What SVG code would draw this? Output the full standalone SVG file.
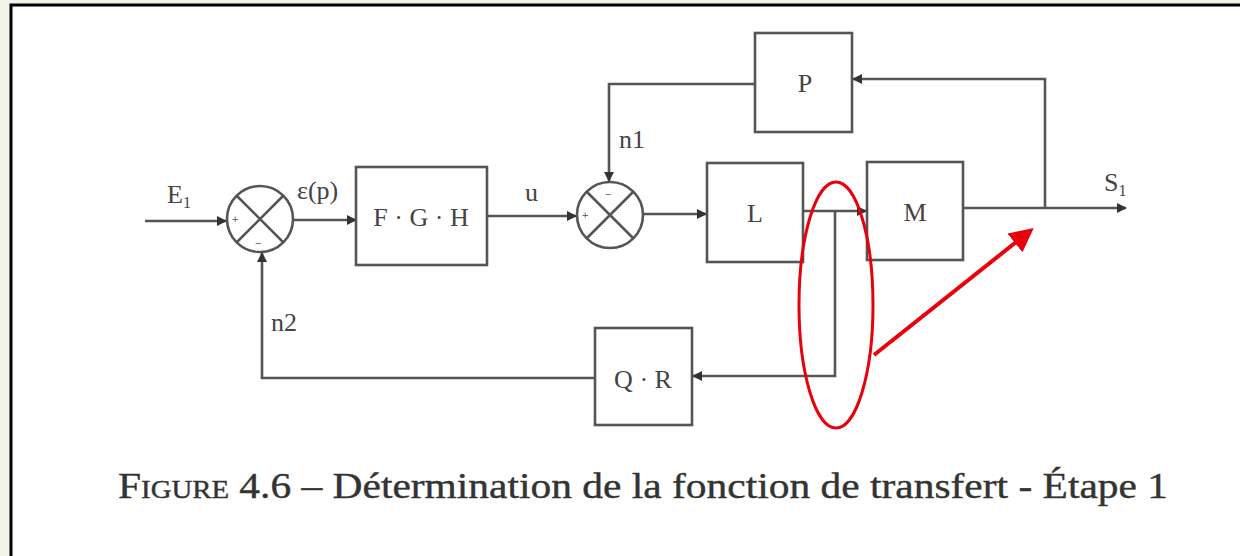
<svg xmlns="http://www.w3.org/2000/svg" width="1240" height="556" viewBox="0 0 1240 556">
<style>
.blk{fill:#fff;stroke:#555;stroke-width:2.6}
.ln{fill:none;stroke:#555;stroke-width:2.6}
.lbl{font-family:"Liberation Serif",serif;font-size:26px;fill:#444}
.sgn{font-family:"Liberation Sans",sans-serif;font-size:11px;fill:#666}
.cap{font-family:"Liberation Serif",serif;font-size:36px;fill:#333;stroke:#333;stroke-width:0.4}
.red{fill:none;stroke:#e8000b;stroke-width:3}
</style>
<defs>
<marker id="ah2" viewBox="0 0 10 10" refX="9" refY="5" markerWidth="10" markerHeight="10" orient="auto" markerUnits="userSpaceOnUse">
<path d="M0,0 L10,5 L0,10 z" fill="#333"/>
</marker>
<marker id="rah" viewBox="0 0 10 10" refX="8" refY="5" markerWidth="6" markerHeight="6" orient="auto">
<path d="M0,0 L10,5 L0,10 z" fill="#e8000b"/>
</marker>
</defs>
<rect x="0" y="0" width="1240" height="556" fill="#f2f3e6"/>
<rect x="11" y="5" width="1240" height="560" fill="#fff" stroke="#000" stroke-width="3"/>

<g id="connectors">
<path class="ln" d="M145,221 H226" marker-end="url(#ah2)"/>
<path class="ln" d="M293,220 H356" marker-end="url(#ah2)"/>
<path class="ln" d="M487,216 H576" marker-end="url(#ah2)"/>
<path class="ln" d="M643,214 H706" marker-end="url(#ah2)"/>
<path class="ln" d="M803,211 H866" marker-end="url(#ah2)"/>
<path class="ln" d="M963,208 H1126" marker-end="url(#ah2)"/>
<path class="ln" d="M1045,208 V79 H853" marker-end="url(#ah2)"/>
<path class="ln" d="M755,84 H609 V181" marker-end="url(#ah2)"/>
<path class="ln" d="M835,211 V376 H693" marker-end="url(#ah2)"/>
<path class="ln" d="M595,378 H262 V253" marker-end="url(#ah2)"/>
</g>

<g id="sum1">
<circle class="ln" cx="260" cy="219" r="33"/>
<path class="ln" d="M237,196 L283,242 M283,196 L237,242"/>
<text class="sgn" x="232" y="223">+</text>
<text class="sgn" x="255" y="247">−</text>
</g>
<g id="sum2">
<circle class="ln" cx="610" cy="215" r="33"/>
<path class="ln" d="M587,192 L633,238 M633,192 L587,238"/>
<text class="sgn" x="582" y="219">+</text>
<text class="sgn" x="605" y="198">−</text>
</g>

<g id="FGH"><rect class="blk" x="356" y="167" width="131" height="98"/><text class="lbl" x="421" y="226" text-anchor="middle">F · G · H</text></g>
<g id="L"><rect class="blk" x="707" y="163" width="96" height="99"/><text class="lbl" x="755" y="222" text-anchor="middle">L</text></g>
<g id="M"><rect class="blk" x="867" y="162" width="96" height="98"/><text class="lbl" x="915" y="221" text-anchor="middle">M</text></g>
<g id="P"><rect class="blk" x="755" y="33" width="97" height="99"/><text class="lbl" x="805" y="92" text-anchor="middle">P</text></g>
<g id="QR"><rect class="blk" x="595" y="328" width="97" height="97"/><text class="lbl" x="643" y="388" text-anchor="middle">Q · R</text></g>

<g id="labels">
<text class="lbl" x="167" y="203">E<tspan font-size="16" dy="5">1</tspan></text>
<text class="lbl" x="297" y="199">ε(p)</text>
<text class="lbl" x="525" y="201">u</text>
<text class="lbl" x="619" y="148">n1</text>
<text class="lbl" x="271" y="331">n2</text>
<text class="lbl" x="1104" y="191">S<tspan font-size="16" dy="5">1</tspan></text>
</g>

<g id="annotation">
<ellipse class="red" cx="836" cy="305" rx="37" ry="123"/>
<path d="M874,355 L1030,231" stroke="#e8000b" stroke-width="4" fill="none" marker-end="url(#rah)"/>
</g>

<text class="cap" x="118" y="498" textLength="1050" lengthAdjust="spacingAndGlyphs"><tspan font-variant="small-caps">Figure</tspan> 4.6 – Détermination de la fonction de transfert - Étape 1</text>
</svg>
